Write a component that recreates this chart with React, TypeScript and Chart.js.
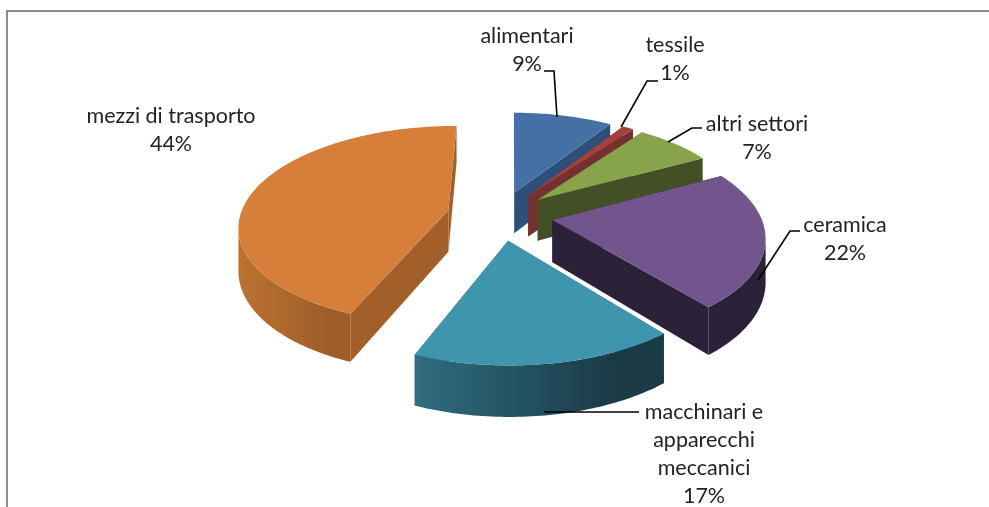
import React, { useEffect, useRef } from "react";
import { Chart, registerables } from "chart.js";

Chart.register(...registerables);

// ---- data ----
const categories = ["alimentari", "tessile", "altri settori", "ceramica", "macchinari e\napparecchi\nmeccanici", "mezzi di trasporto"];
const shares = [9, 1, 7, 22, 17, 44];

// ---- styles ----
const topColors = ["#4470a6", "#a5403d", "#87a44a", "#71558c", "#3f94ae", "#d67f3b"];
const radialWallColors = ["#2e4f78", "#733230", "#434f24", "#2b2138", "#2a6274", "#a35f2a"];
const outerWallLeft = ["#2e4f78", "#733230", "#434f24", "#2b2138", "#2f6d80", "#bb7232"];
const outerWallRight = ["#2e4f78", "#733230", "#434f24", "#2b2138", "#1a3a46", "#9f5e29"];
const explosion = [51, 51, 51, 53, 53, 53];
const paintOrder = [0, 1, 2, 5, 3, 4];

// label layout: text centre x, first-line y, leader polyline
const labelCentreX = [527, 675, 757, 845, 704, 171];
const labelFirstY = [36, 45, 124, 225, 412, 116];
const leaders: number[][][] = [
  [[557, 117], [554, 71], [544, 71]],
  [[621, 127], [647, 81], [658, 81]],
  [[668, 142], [692, 128], [702, 128]],
  [[758, 280], [790, 231], [800, 231]],
  [[544, 412], [639, 412]],
  [],
];

const PERSPECTIVE = 0.1475;
const TILT = 0.471;
const DEPTH = 42;
const LINE_HEIGHT = 28;
const FONT = '21.5px Lato, "Open Sans", sans-serif';

function project(arc: any, wx: number, wz: number, down: number) {
  const F = arc.outerRadius;
  const s = 1 / (1 + PERSPECTIVE * wz);
  return { x: arc.x + F * wx * s, y: arc.y - F * TILT * wz * s + down * s };
}

function poly(ctx: CanvasRenderingContext2D, pts: { x: number; y: number }[], color: any) {
  ctx.beginPath();
  pts.forEach((p, i) => (i ? ctx.lineTo(p.x, p.y) : ctx.moveTo(p.x, p.y)));
  ctx.closePath();
  ctx.fillStyle = color;
  ctx.fill();
}

const pie3d = {
  id: "pie3d",
  beforeDatasetDraw(chart: any) {
    const ctx: CanvasRenderingContext2D = chart.ctx;
    const arcs = chart.getDatasetMeta(0).data;
    ctx.save();
    for (const i of paintOrder) {
      const arc = arcs[i];
      const a0 = arc.startAngle + Math.PI / 2;
      const a1 = arc.endAngle + Math.PI / 2;
      const mid = (a0 + a1) / 2;
      const e = arc.options.offset / arc.outerRadius;
      const ox = e * Math.sin(mid);
      const oz = e * Math.cos(mid);
      const steps = Math.max(4, Math.round(((a1 - a0) * 180) / Math.PI));
      const rim = (k: number, d: number) => {
        const a = a0 + ((a1 - a0) * k) / steps;
        return project(arc, ox + Math.sin(a), oz + Math.cos(a), d);
      };
      const apexTop = project(arc, ox, oz, 0);
      const apexBot = project(arc, ox, oz, DEPTH);
      poly(ctx, [apexTop, rim(0, 0), rim(0, DEPTH), apexBot], radialWallColors[i]);
      poly(ctx, [apexTop, rim(steps, 0), rim(steps, DEPTH), apexBot], radialWallColors[i]);
      const front: number[] = [];
      for (let k = 0; k <= steps; k++) {
        const isFront =
          (k < steps && rim(k + 1, 0).x < rim(k, 0).x) || (k > 0 && rim(k, 0).x < rim(k - 1, 0).x);
        if (isFront) front.push(k);
      }
      if (front.length > 1) {
        const upper = front.map((k) => rim(k, 0));
        const lower = front.map((k) => rim(k, DEPTH)).reverse();
        const xs = upper.map((p) => p.x);
        const g = ctx.createLinearGradient(Math.min(...xs), 0, Math.max(...xs), 0);
        g.addColorStop(0, outerWallLeft[i]);
        g.addColorStop(0.8, outerWallRight[i]);
        g.addColorStop(1, outerWallRight[i]);
        poly(ctx, [...upper, ...lower], g);
      }
      const top = [apexTop];
      for (let k = 0; k <= steps; k++) top.push(rim(k, 0));
      poly(ctx, top, arc.options.backgroundColor);
    }
    ctx.restore();
    return false;
  },
  afterDatasetsDraw(chart: any) {
    const ctx: CanvasRenderingContext2D = chart.ctx;
    ctx.save();
    ctx.strokeStyle = "#000";
    ctx.lineWidth = 1.6;
    leaders.forEach((pts) => {
      if (!pts.length) return;
      ctx.beginPath();
      pts.forEach((p, i) => (i ? ctx.lineTo(p[0], p[1]) : ctx.moveTo(p[0], p[1])));
      ctx.stroke();
    });
    ctx.font = FONT;
    ctx.fillStyle = "#222";
    ctx.textAlign = "center";
    ctx.textBaseline = "middle";
    categories.forEach((name, i) => {
      const lines = [...name.split("\n"), `${shares[i]}%`];
      lines.forEach((l, n) => ctx.fillText(l, labelCentreX[i], labelFirstY[i] + n * LINE_HEIGHT));
    });
    ctx.restore();
  },
};

export default function App() {
  const ref = useRef<HTMLCanvasElement>(null);
  useEffect(() => {
    const chart = new Chart(ref.current!, {
      type: "pie",
      data: {
        labels: categories,
        datasets: [{ data: shares, backgroundColor: topColors, borderWidth: 0, offset: explosion, radius: 208 } as any],
      },
      options: {
        responsive: false,
        animation: false,
        events: [],
        rotation: 0.5,
        layout: { padding: { left: 11, right: 0, top: 0, bottom: 77 } },
        plugins: { legend: { display: false }, tooltip: { enabled: false }, title: { display: false } },
      } as any,
      plugins: [pie3d as any],
    });
    return () => chart.destroy();
  }, []);
  return (
    <div style={{ position: "fixed", left: 0, top: 0, width: 989, height: 507, background: "#fff", overflow: "hidden" }}>
      <div style={{ position: "absolute", left: 6, top: 10, right: 0, bottom: 0, borderTop: "2px solid #8c8c8c", borderLeft: "2px solid #8c8c8c" }} />
      <canvas ref={ref} width={989} height={507} style={{ position: "absolute", left: 0, top: 0 }} />
    </div>
  );
}
